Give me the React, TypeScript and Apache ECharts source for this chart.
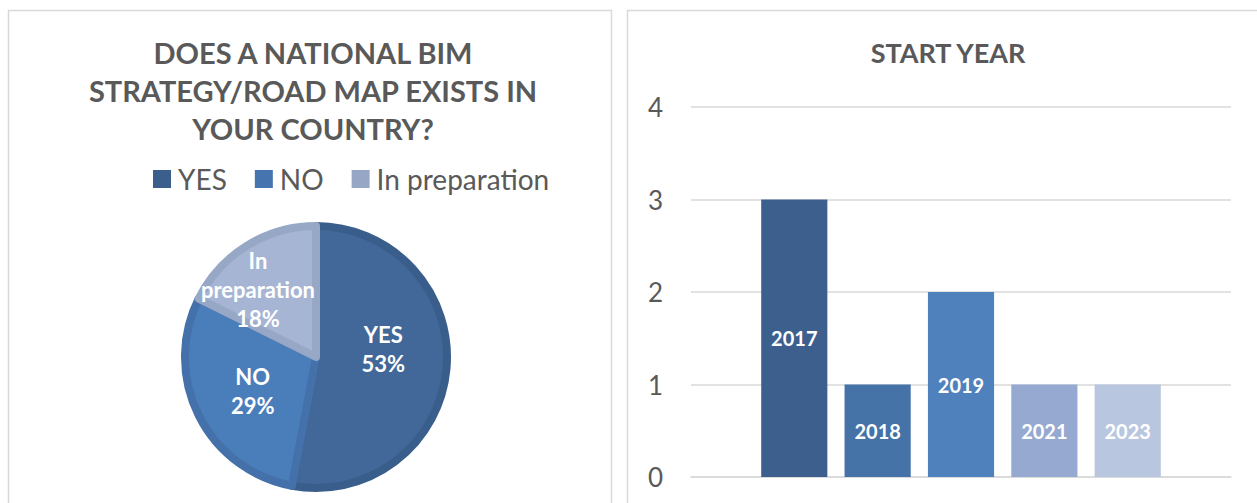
import React, { useEffect, useRef } from "react";
import * as echarts from "echarts";

const pieNames = ["YES", "NO", "In preparation"];
const pieValues = [9, 5, 3];
const pieFill = ["#416899", "#4a7ebb", "#a6b5d4"];
const pieBorder = ["#3a5e8b", "#4471a9", "#97a7c6"];
const legendColors = ["#3b5e8c", "#4674ae", "#97a6c5"];

const barYears = ["2017", "2018", "2019", "2021", "2023"];
const barValues = [3, 1, 2, 1, 1];
const barColors = ["#3c5f8d", "#4572a7", "#4f81bd", "#95a9d1", "#b9c6e0"];
const yTicks = [0, 1, 2, 3, 4];

const FONT = "Lato, 'Noto Sans', sans-serif";

// per-slice label nudges to match the reference placement
const pieLabelShift = [
  [-1, -14],
  [-2, 3],
  [-22, -9],
];

export default function App() {
  const ref = useRef<HTMLDivElement>(null);
  useEffect(() => {
    document.body.style.margin = "0";
    const chart = echarts.init(ref.current!, null, { renderer: "svg" });
    chart.setOption({
      animation: false,
      backgroundColor: "#ffffff",
      textStyle: { fontFamily: FONT },
      graphic: [
        { type: "rect", shape: { x: 8.5, y: 10.5, width: 603, height: 520 }, style: { fill: "none", stroke: "#d9d9d9", lineWidth: 1.5 }, silent: true, z: -1 },
        { type: "rect", shape: { x: 627.5, y: 10.5, width: 660, height: 520 }, style: { fill: "none", stroke: "#d9d9d9", lineWidth: 1.5 }, silent: true, z: -1 },
      ],
      title: [
        {
          text: "DOES A NATIONAL BIM\nSTRATEGY/ROAD MAP EXISTS IN\nYOUR COUNTRY?",
          left: 308,
          top: 28,
          textAlign: "center",
          textStyle: { fontFamily: FONT, fontSize: 29, fontWeight: "bold", color: "#595959", lineHeight: 38 },
        },
        {
          text: "START YEAR",
          left: 943,
          top: 34,
          textAlign: "center",
          textStyle: { fontFamily: FONT, fontSize: 27, fontWeight: "bold", color: "#595959" },
        },
      ],
      legend: {
        data: pieNames.map((n, i) => ({ name: n, itemStyle: { color: legendColors[i], borderWidth: 0 } })),
        left: 153,
        top: 165,
        padding: 0,
        itemWidth: 18,
        itemHeight: 18,
        itemGap: 28,
        icon: "rect",
        textStyle: { fontFamily: FONT, fontSize: 28, color: "#595959", padding: [0, 0, 0, 2] },
      },
      grid: { left: 691, right: 26, top: 107, bottom: 26, containLabel: false },
      xAxis: {
        type: "category",
        data: [""],
        axisLine: { lineStyle: { color: "#d9d9d9", width: 1.5 } },
        axisTick: { show: false },
        axisLabel: { show: false },
      },
      yAxis: {
        type: "value",
        min: 0,
        max: 4,
        interval: 1,
        axisLine: { show: false },
        axisTick: { show: false },
        axisLabel: {
          fontFamily: FONT,
          fontSize: 26,
          color: "#595959",
          margin: 28,
          formatter: (v: number) => (yTicks.includes(v) ? String(v) : ""),
        },
        splitLine: { lineStyle: { color: "#d9d9d9", width: 1.5 } },
      },
      series: [
        {
          type: "pie",
          center: [316, 357],
          radius: 131,
          startAngle: 90,
          clockwise: true,
          data: pieNames.map((n, i) => ({
            name: n,
            value: pieValues[i],
            itemStyle: { color: pieFill[i], borderColor: pieBorder[i], borderWidth: 8 },
          })),
          label: {
            show: true,
            position: "inside",
            color: "#ffffff",
            fontFamily: FONT,
            fontSize: 22,
            fontWeight: "bold",
            lineHeight: 29,
            formatter: (p: any) =>
              (p.name === "In preparation" ? "In\npreparation" : p.name) + "\n" + Math.round(p.percent) + "%",
          },
          labelLayout: (p: any) => ({
            dx: pieLabelShift[p.dataIndex][0],
            dy: pieLabelShift[p.dataIndex][1],
          }),
          labelLine: { show: false },
        },
        ...barYears.map((y, i) => ({
          type: "bar",
          name: y,
          data: [barValues[i]],
          itemStyle: { color: barColors[i] },
          barCategoryGap: "26%",
          barGap: "26%",
          label: {
            show: true,
            position: "inside",
            formatter: "{a}",
            color: "#ffffff",
            fontFamily: FONT,
            fontSize: 20,
            fontWeight: "bold",
          },
        })),
      ],
    });
    return () => chart.dispose();
  }, []);
  return <div ref={ref} style={{ width: 1257, height: 503 }} />;
}
